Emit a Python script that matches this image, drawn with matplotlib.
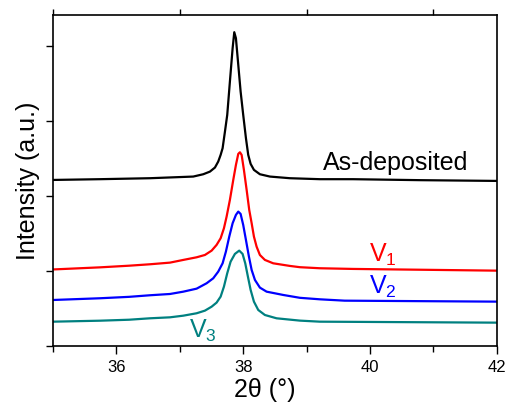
import matplotlib
matplotlib.use("Agg")
import matplotlib.pyplot as plt
from matplotlib.ticker import FixedLocator, NullFormatter

plt.rcParams['font.family'] = ['Liberation Sans', 'DejaVu Sans']
plt.rcParams['mathtext.fontset'] = 'custom'
plt.rcParams['mathtext.rm'] = 'Liberation Sans'
plt.rcParams['mathtext.it'] = 'Liberation Sans'

# 2theta positions (deg) and intensities (a.u., offset stacked)
x_asdep = [35.0, 35.74, 36.53, 37.212, 37.370, 37.475, 37.554, 37.606, 37.644, 37.675,
           37.712, 37.748, 37.790, 37.833, 37.859, 37.885, 37.922, 37.959, 38.0, 38.043,
           38.079, 38.117, 38.169, 38.263, 38.421, 38.736, 39.209, 39.73, 40.79, 42.0]
y_asdep = [2.213, 2.223, 2.236, 2.258, 2.289, 2.324, 2.378, 2.458, 2.547, 2.636,
           2.858, 3.08, 3.524, 3.969, 4.182, 4.102, 3.747, 3.391, 3.08, 2.769,
           2.547, 2.427, 2.347, 2.289, 2.258, 2.236, 2.223, 2.223, 2.21, 2.20]

x_v1 = [35.0, 35.74, 36.2, 36.529, 36.845, 37.055, 37.265, 37.396, 37.502, 37.580,
        37.644, 37.696, 37.738, 37.790, 37.843, 37.885, 37.922, 37.948, 37.975, 38.011,
        38.054, 38.095, 38.133, 38.169, 38.211, 38.263, 38.342, 38.473, 38.736, 38.894,
        39.209, 39.73, 42.0]
y_v1 = [1.02, 1.048, 1.07, 1.089, 1.111, 1.147, 1.182, 1.213, 1.271, 1.347,
        1.436, 1.569, 1.724, 1.947, 2.213, 2.413, 2.56, 2.582, 2.547, 2.347,
        2.08, 1.813, 1.636, 1.458, 1.324, 1.213, 1.147, 1.102, 1.067, 1.05,
        1.036, 1.027, 1.004]

x_v2 = [35.0, 35.74, 36.2, 36.529, 36.845, 37.055, 37.265, 37.423, 37.527, 37.606,
        37.675, 37.727, 37.780, 37.833, 37.885, 37.922, 37.959, 38.0, 38.043, 38.090,
        38.133, 38.185, 38.263, 38.369, 38.631, 38.894, 39.209, 39.60, 42.0]
y_v2 = [0.613, 0.636, 0.655, 0.676, 0.693, 0.724, 0.764, 0.836, 0.902, 0.991,
        1.102, 1.258, 1.458, 1.636, 1.747, 1.791, 1.76, 1.613, 1.413, 1.191,
        1.013, 0.88, 0.778, 0.724, 0.68, 0.642, 0.622, 0.604, 0.591]

x_v3 = [35.0, 35.74, 36.2, 36.529, 36.845, 37.055, 37.265, 37.396, 37.502, 37.580,
        37.644, 37.696, 37.748, 37.801, 37.869, 37.937, 37.990, 38.032, 38.074, 38.117,
        38.169, 38.237, 38.342, 38.526, 38.894, 39.209, 42.0]
y_v3 = [0.324, 0.337, 0.35, 0.369, 0.382, 0.404, 0.436, 0.471, 0.524, 0.578,
        0.658, 0.791, 0.969, 1.124, 1.227, 1.271, 1.227, 1.102, 0.924, 0.747,
        0.591, 0.48, 0.413, 0.369, 0.338, 0.324, 0.311]

series = [
    (x_asdep, y_asdep, 'black'),
    (x_v1, y_v1, '#ff0000'),
    (x_v2, y_v2, '#0000ff'),
    (x_v3, y_v3, '#008080'),
]

labels = ['As-deposited', 'V$_1$', 'V$_2$', 'V$_3$']
label_pos = [(39.25, 2.35), (39.99, 1.124), (39.99, 0.69), (37.15, 0.107)]
label_colors = ['black', '#ff0000', '#0000ff', '#008080']

x_major = [36, 38, 40, 42]
x_minor = [35, 37, 39, 41]
y_ticks = [0, 1, 2, 3, 4]

fig = plt.figure(figsize=(5.07, 4.08), dpi=100)
ax = fig.add_axes([0.1045, 0.152, 0.8755, 0.811])

for xs, ys, c in series:
    ax.plot(xs, ys, color=c, lw=1.6, solid_joinstyle='round', solid_capstyle='round')

for lab, (lx, ly), c in zip(labels, label_pos, label_colors):
    ax.text(lx, ly, lab, color=c, fontsize=18, ha='left', va='baseline')

ax.set_xlim(35, 42)
ax.set_ylim(0, 4.41)
ax.xaxis.set_major_locator(FixedLocator(x_major))
ax.xaxis.set_minor_locator(FixedLocator(x_minor))
ax.yaxis.set_major_locator(FixedLocator(y_ticks))
ax.yaxis.set_major_formatter(NullFormatter())
ax.tick_params(axis='x', which='major', direction='out', length=6, width=1, labelsize=12, pad=4)
ax.tick_params(axis='x', which='minor', direction='out', length=4, width=1, top=True)
ax.tick_params(axis='y', which='major', direction='out', length=5, width=1)
for s in ax.spines.values():
    s.set_linewidth(1.2)

ax.set_xlabel('2θ (°)', fontsize=18, labelpad=2)
ax.xaxis.label.set_x(0.477)
ax.set_ylabel('Intensity (a.u.)', fontsize=18, labelpad=1)

fig.savefig('out.png', dpi=100)
